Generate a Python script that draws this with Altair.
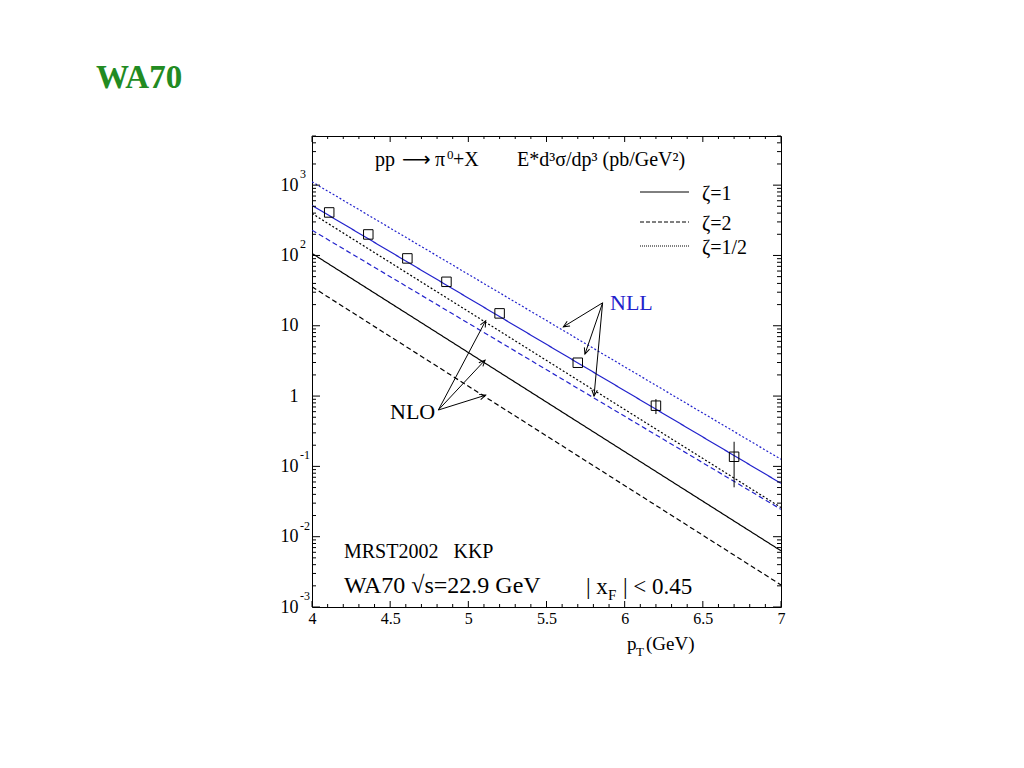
import math
import altair as alt
import pandas as pd

# ---------------- data ----------------
pt_edges = [4.0, 7.0]
nll_half = [1115, 0.126]     # NLL zeta=1/2 (blue dotted)
nll_one = [515, 0.0574]      # NLL zeta=1   (blue solid)
nll_two = [229, 0.0245]      # NLL zeta=2   (blue dashed)
nlo_half = [396, 0.026]      # NLO zeta=1/2 (black dotted)
nlo_one = [107, 0.0063]      # NLO zeta=1   (black solid)
nlo_two = [35.8, 0.00206]    # NLO zeta=2   (black dashed)

pt_data = [4.11, 4.36, 4.61, 4.86, 5.2, 5.7, 6.2, 6.7]
sigma_data = [409, 199, 90.8, 42.2, 15.0, 2.98, 0.73, 0.137]

err_pt = [6.2, 6.7]
err_lo = [0.555, 0.0504]
err_hi = [0.905, 0.224]

x_tick_labels = [4, 4.5, 5, 5.5, 6, 6.5, 7]
y_decades = [1e-3, 1e-2, 1e-1, 1, 10, 100, 1000]
y_base_text = ["10", "10", "10", "1", "10", "10", "10"]
y_exp_text = ["-3", "-2", "-1", "", "", "2", "3"]

nll_origin = (5.859, 21.2)
nll_tips_x = [5.608, 5.746, 5.804]
nll_tips_y = [9.68, 3.96, 1.0]
nlo_origin = (4.808, 0.633)
nlo_tips_x = [5.111, 5.107, 5.111]
nlo_tips_y = [11.8, 3.25, 1.03]

# ---------------- layout / style ----------------
W, H = 469, 471
XMIN, XMAX = 4.0, 7.0
YMIN, YMAX = 1e-3, 5e3
SERIF = "Liberation Serif"
BLUE = "#2222cc"

xs = alt.Scale(domain=[XMIN, XMAX], nice=False, zero=False)
ys = alt.Scale(type="log", domain=[YMIN, YMAX], nice=False)

x_axis = alt.Axis(values=x_tick_labels, title=None, ticks=False, domain=False, grid=False,
                  labelFont=SERIF, labelFontSize=16, labelPadding=3, labelColor="black",
                  labelFlush=False, labelOverlap=False, labelExpr="'' + datum.value")

expr = "'" + y_base_text[-1] + "'"
for v, t in list(zip(y_decades, y_base_text))[:-1][::-1]:
    expr = f"datum.value < {v * 3} ? '{t}' : " + expr
y_axis = alt.Axis(values=y_decades, title=None, ticks=False, domain=False, grid=False,
                  labelFont=SERIF, labelFontSize=18, labelPadding=14, labelColor="black",
                  labelFlush=False, labelOverlap=False, labelExpr=expr)


def X(f):
    return alt.X(f, type="quantitative", scale=xs, axis=x_axis)


def Y(f):
    return alt.Y(f, type="quantitative", scale=ys, axis=y_axis)


def px(x):
    return (x - XMIN) / (XMAX - XMIN) * W


def py(y):
    return H * (math.log10(YMAX) - math.log10(y)) / (math.log10(YMAX) - math.log10(YMIN))


one = pd.DataFrame({"a": [0]})


def label(text, x, y, size=20, color="black", weight="normal", align="left", font=SERIF):
    return alt.Chart(one).mark_text(
        text=text, font=font, fontSize=size, color=color, fontWeight=weight,
        align=align, baseline="middle"
    ).encode(x=alt.value(x), y=alt.value(y))


# ---------------- theory curves ----------------
names = ["NLL z=1/2", "NLL z=1", "NLL z=2", "NLO z=1/2", "NLO z=1", "NLO z=2"]
series = [nll_half, nll_one, nll_two, nlo_half, nlo_one, nlo_two]
rows = []
for n, s in zip(names, series):
    for x, y in zip(pt_edges, s):
        rows.append({"series": n, "pt": x, "sig": y})
curves = pd.DataFrame(rows)
dash_range = [[2, 2], [1, 0], [5, 3], [2, 2], [1, 0], [5, 3]]
color_range = [BLUE, BLUE, BLUE, "black", "black", "black"]

lines = alt.Chart(curves).mark_line(strokeWidth=1.2, clip=True).encode(
    x=X("pt"), y=Y("sig"),
    detail="series:N",
    color=alt.Color("series:N", scale=alt.Scale(domain=names, range=color_range), legend=None),
    strokeDash=alt.StrokeDash("series:N", scale=alt.Scale(domain=names, range=dash_range), legend=None),
)

# ---------------- data points ----------------
pts = pd.DataFrame({"pt": pt_data, "sig": sigma_data})
points = alt.Chart(pts).mark_point(shape="square", size=90, filled=False, color="black",
                                   strokeWidth=1, opacity=1).encode(x=X("pt"), y=Y("sig"))
errs = pd.DataFrame({"pt": err_pt, "lo": err_lo, "hi": err_hi})
errbars = alt.Chart(errs).mark_rule(color="black", strokeWidth=1).encode(
    x=X("pt"), y=Y("lo"), y2=alt.Y2("hi"))

# ---------------- arrows ----------------
arows = []
for (ox, oy), txs, tys in [(nll_origin, nll_tips_x, nll_tips_y), (nlo_origin, nlo_tips_x, nlo_tips_y)]:
    for tx, ty in zip(txs, tys):
        dx = px(tx) - px(ox)
        dy = py(ty) - py(oy)
        ang = math.degrees(math.atan2(dx, -dy)) % 360
        arows.append({"x0": ox, "y0": oy, "x1": tx, "y1": ty, "ang": ang})
arr = pd.DataFrame(arows)
arrow_lines = alt.Chart(arr).mark_rule(color="black", strokeWidth=1).encode(
    x=X("x0"), y=Y("y0"), x2=alt.X2("x1"), y2=alt.Y2("y1"))
arrow_heads = alt.Chart(arr).mark_point(
    shape="M -0.45 1 L 0 0 L 0.45 1", size=150, filled=False, color="black", strokeWidth=1, opacity=1
).encode(x=X("x1"), y=Y("y1"), angle=alt.Angle("ang:Q", scale=None))

# ---------------- y-axis exponents ----------------
exps = pd.DataFrame({"v": y_decades, "e": y_exp_text})
exponents = alt.Chart(exps).mark_text(font=SERIF, fontSize=12, align="left", baseline="middle",
                                      dy=-11, color="black").encode(
    y=Y("v"), x=alt.value(-12), text="e:N")

# ---------------- inward ticks on all four sides ----------------
y_minor = [k * d for d in y_decades for k in range(2, 10) if k * d <= YMAX]
x_minor = [round(4 + 0.1 * i, 1) for i in range(31) if round(4 + 0.1 * i, 1) not in x_tick_labels]
ymaj = pd.DataFrame({"v": y_decades})
ymin_df = pd.DataFrame({"v": y_minor})
xmaj = pd.DataFrame({"v": x_tick_labels})
xmin_df = pd.DataFrame({"v": x_minor})


def yticks(df, L):
    a = alt.Chart(df).mark_rule(color="black", strokeWidth=1).encode(
        y=Y("v"), x=alt.value(0), x2=alt.value(L))
    b = alt.Chart(df).mark_rule(color="black", strokeWidth=1).encode(
        y=Y("v"), x=alt.value(W), x2=alt.value(W - L))
    return [a, b]


def xticks(df, L):
    a = alt.Chart(df).mark_rule(color="black", strokeWidth=1).encode(
        x=X("v"), y=alt.value(H), y2=alt.value(H - L))
    b = alt.Chart(df).mark_rule(color="black", strokeWidth=1).encode(
        x=X("v"), y=alt.value(0), y2=alt.value(L))
    return [a, b]


ticks = yticks(ymaj, 8) + yticks(ymin_df, 4) + xticks(xmaj, 6) + xticks(xmin_df, 3)

# ---------------- legend ----------------
leg_dash = [[1, 0], [4, 2], [1, 1]]
leg_y = [56, 86, 110]
leg_text = ["ζ=1", "ζ=2", "ζ=1/2"]
legend = []
for d, yy, t in zip(leg_dash, leg_y, leg_text):
    legend.append(alt.Chart(one).mark_rule(color="black", strokeWidth=1, strokeDash=d).encode(
        x=alt.value(328), x2=alt.value(377), y=alt.value(yy)))
    legend.append(label(t, 390, yy + 2, size=20))

# ---------------- texts ----------------
NB = "\u00a0"
texts = [
    label("WA70", -216, -58, size=33, color="#228B22", weight="bold"),
    label("pp", 63, 24, size=20),
    label("⟶", 90, 24, size=20, font="DejaVu Sans"),
    label("π", 123, 24, size=20),
    label("0", 135, 19, size=13),
    label("+X", 141, 24, size=20),
    label("E*d³σ/dp³ (pb/GeV²)", 205, 24, size=20),
    label("NLL", 298, 167, size=22, color=BLUE),
    label("NLO", 78, 276, size=22),
    label("MRST2002" + NB * 3 + "KKP", 32, 416, size=20),
    label("WA70 √s=22.9 GeV", 32, 450, size=24),
    label("| x", 274, 451, size=23),
    label("F", 296, 459, size=15),
    label("| < 0.45", 311, 451, size=23),
    label("p", 315, 508, size=19),
    label("T", 324, 516, size=13),
    label("(GeV)", 334, 508, size=19),
]

chart = alt.layer(
    lines, errbars, points, arrow_lines, arrow_heads, exponents, *ticks, *legend, *texts
).properties(
    width=W, height=H,
    autosize=alt.AutoSizeParams(type="none"),
    padding={"left": 304, "top": 128, "right": 30, "bottom": 70},
    background="white",
).configure_view(stroke="black", strokeWidth=1)

chart.save("out.html", embed_options={"renderer": "svg", "actions": False})
